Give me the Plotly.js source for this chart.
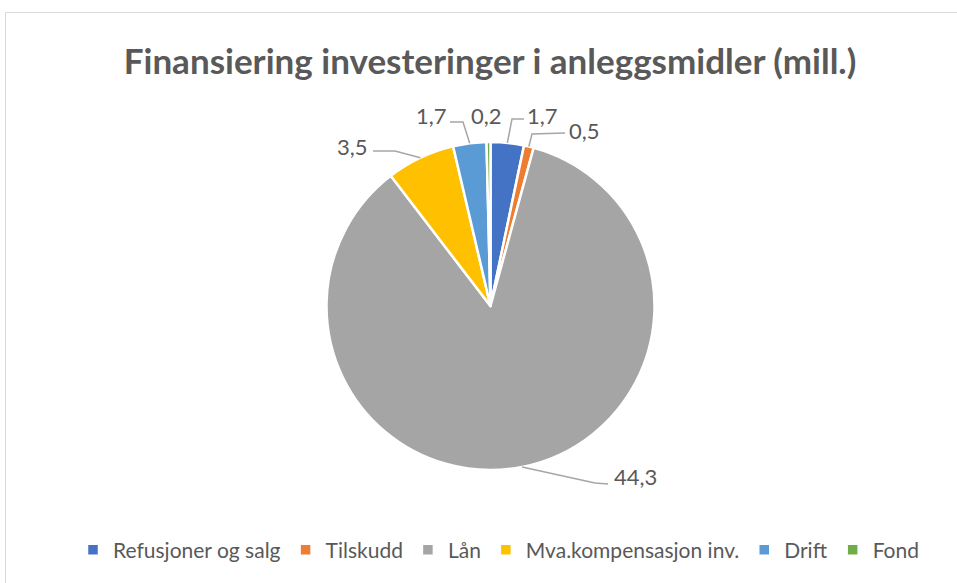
<!DOCTYPE html>
<html>
<head>
<meta charset="utf-8">
<script src="https://cdn.plot.ly/plotly-3.0.1.min.js"></script>
<style>html,body{margin:0;padding:0;background:#fff;}#chart{width:957px;height:583px;}</style>
</head>
<body>
<div id="chart"></div>
<script>
// ---- data ----
const categories = ["Refusjoner og salg", "Tilskudd", "Lån", "Mva.kompensasjon inv.", "Drift", "Fond"];
const values = [1.7, 0.5, 44.3, 3.5, 1.7, 0.2];
const colors = ["#4472C4", "#ED7D31", "#A5A5A5", "#FFC000", "#5B9BD5", "#70AD47"];
const chartTitle = "Finansiering investeringer i anleggsmidler (mill.)";

// ---- layout config (pixels) ----
const W = 957, H = 583;
const pie = {cx: 490.5, cy: 306, r: 164};
// label text centres and leader-line elbow/end points (null = no leader line)
const labelPos = [
  {tx: 542, ty: 115, elbow: [512, 119], end: [524, 119]},
  {tx: 584, ty: 130, elbow: [532, 134], end: [565, 133]},
  {tx: 635, ty: 477, elbow: [595, 483], end: [608, 484]},
  {tx: 352, ty: 146, elbow: [395, 151], end: [373, 151]},
  {tx: 431, ty: 115, elbow: [463, 122], end: [450, 122]},
  {tx: 487, ty: 115, elbow: null, end: null}
];

const px = x => x / W;
const py = y => (H - y) / H;
const fmt = v => v.toFixed(1).replace('.', ',');

const total = values.reduce((a, b) => a + b, 0);
let cum = 0;
const shapes = [{
  type: 'rect', xref: 'paper', yref: 'paper',
  x0: px(5.5), x1: 1.02, y0: -0.02, y1: py(12.5),
  line: {color: '#d9d9d9', width: 1}, fillcolor: 'rgba(0,0,0,0)'
}];
const annotations = [];
values.forEach((v, i) => {
  const mid = (cum + v / 2) / total;
  cum += v;
  const th = 2 * Math.PI * mid;
  const ex = pie.cx + pie.r * Math.sin(th);
  const ey = pie.cy - pie.r * Math.cos(th);
  const lp = labelPos[i];
  if (lp.elbow) {
    shapes.push({
      type: 'path', xref: 'paper', yref: 'paper',
      path: `M ${px(ex)} ${py(ey)} L ${px(lp.elbow[0])} ${py(lp.elbow[1])} L ${px(lp.end[0])} ${py(lp.end[1])}`,
      line: {color: '#a6a6a6', width: 1.5}
    });
  }
  annotations.push({
    xref: 'paper', yref: 'paper', x: px(lp.tx), y: py(lp.ty),
    xanchor: 'center', yanchor: 'middle', showarrow: false,
    text: fmt(v),
    font: {family: 'Lato, sans-serif', size: 22, color: '#595959'}
  });
});

const trace = {
  type: 'pie',
  labels: categories,
  values: values,
  sort: false,
  direction: 'clockwise',
  rotation: 0,
  textinfo: 'none',
  hoverinfo: 'label+value',
  marker: {colors: colors, line: {color: '#ffffff', width: 2.5}},
  domain: {x: [px(pie.cx - pie.r), px(pie.cx + pie.r)], y: [py(pie.cy + pie.r), py(pie.cy - pie.r)]}
};

const layout = {
  width: W, height: H,
  margin: {l: 0, r: 0, t: 0, b: 0},
  paper_bgcolor: '#ffffff',
  title: {
    text: '<b>' + chartTitle + '</b>',
    x: px(490), xanchor: 'center', y: py(62), yanchor: 'middle',
    xref: 'paper', yref: 'paper',
    font: {family: 'Lato, sans-serif', size: 35, color: '#595959'}
  },
  showlegend: true,
  legend: {
    orientation: 'h', x: px(499), xanchor: 'center', y: py(550), yanchor: 'middle',
    font: {family: 'Lato, sans-serif', size: 21, color: '#595959'},
    itemwidth: 30, traceorder: 'normal'
  },
  shapes: shapes,
  annotations: annotations
};

Plotly.newPlot('chart', [trace], layout, {displayModeBar: false, staticPlot: true});
</script>
</body>
</html>
